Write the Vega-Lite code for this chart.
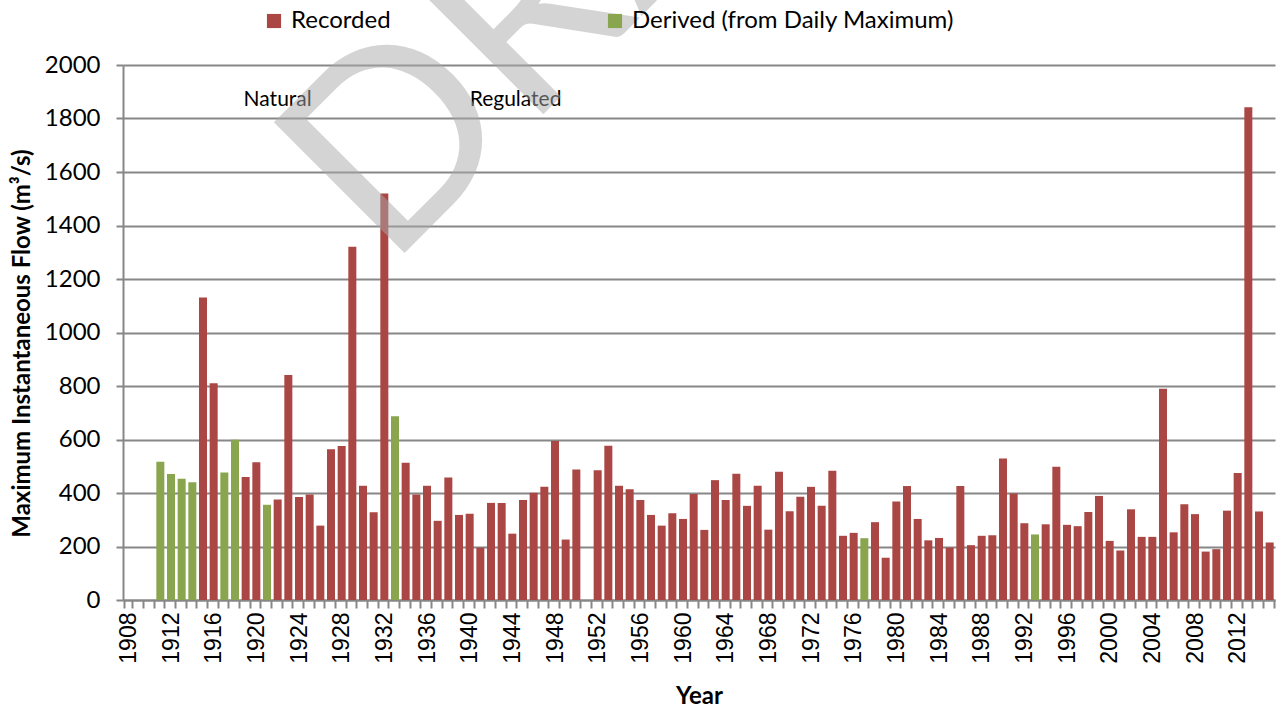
{
  "$schema": "https://vega.github.io/schema/vega-lite/v6.json",
  "width": 1152,
  "height": 535,
  "autosize": {"type": "none"},
  "padding": {"left": 123, "top": 65, "right": 1, "bottom": 109},
  "background": "white",
  "config": {
    "view": {"stroke": null},
    "axis": {"gridColor": "#878787", "domainColor": "#878787", "tickColor": "#878787", "labelColor": "#000000", "titleColor": "#000000"}
  },
  "data": {"values": [
    {"year": 1911, "flow": 517, "source": "Derived (from Daily Maximum)"},
    {"year": 1912, "flow": 471, "source": "Derived (from Daily Maximum)"},
    {"year": 1913, "flow": 453, "source": "Derived (from Daily Maximum)"},
    {"year": 1914, "flow": 440, "source": "Derived (from Daily Maximum)"},
    {"year": 1915, "flow": 1131, "source": "Recorded"},
    {"year": 1916, "flow": 810, "source": "Recorded"},
    {"year": 1917, "flow": 477, "source": "Derived (from Daily Maximum)"},
    {"year": 1918, "flow": 599, "source": "Derived (from Daily Maximum)"},
    {"year": 1919, "flow": 460, "source": "Recorded"},
    {"year": 1920, "flow": 515, "source": "Recorded"},
    {"year": 1921, "flow": 356, "source": "Derived (from Daily Maximum)"},
    {"year": 1922, "flow": 376, "source": "Recorded"},
    {"year": 1923, "flow": 841, "source": "Recorded"},
    {"year": 1924, "flow": 385, "source": "Recorded"},
    {"year": 1925, "flow": 394, "source": "Recorded"},
    {"year": 1926, "flow": 278, "source": "Recorded"},
    {"year": 1927, "flow": 564, "source": "Recorded"},
    {"year": 1928, "flow": 576, "source": "Recorded"},
    {"year": 1929, "flow": 1321, "source": "Recorded"},
    {"year": 1930, "flow": 427, "source": "Recorded"},
    {"year": 1931, "flow": 328, "source": "Recorded"},
    {"year": 1932, "flow": 1520, "source": "Recorded"},
    {"year": 1933, "flow": 687, "source": "Derived (from Daily Maximum)"},
    {"year": 1934, "flow": 513, "source": "Recorded"},
    {"year": 1935, "flow": 394, "source": "Recorded"},
    {"year": 1936, "flow": 427, "source": "Recorded"},
    {"year": 1937, "flow": 296, "source": "Recorded"},
    {"year": 1938, "flow": 458, "source": "Recorded"},
    {"year": 1939, "flow": 318, "source": "Recorded"},
    {"year": 1940, "flow": 322, "source": "Recorded"},
    {"year": 1941, "flow": 196, "source": "Recorded"},
    {"year": 1942, "flow": 363, "source": "Recorded"},
    {"year": 1943, "flow": 363, "source": "Recorded"},
    {"year": 1944, "flow": 248, "source": "Recorded"},
    {"year": 1945, "flow": 374, "source": "Recorded"},
    {"year": 1946, "flow": 401, "source": "Recorded"},
    {"year": 1947, "flow": 423, "source": "Recorded"},
    {"year": 1948, "flow": 594, "source": "Recorded"},
    {"year": 1949, "flow": 226, "source": "Recorded"},
    {"year": 1950, "flow": 488, "source": "Recorded"},
    {"year": 1952, "flow": 485, "source": "Recorded"},
    {"year": 1953, "flow": 577, "source": "Recorded"},
    {"year": 1954, "flow": 427, "source": "Recorded"},
    {"year": 1955, "flow": 414, "source": "Recorded"},
    {"year": 1956, "flow": 374, "source": "Recorded"},
    {"year": 1957, "flow": 318, "source": "Recorded"},
    {"year": 1958, "flow": 278, "source": "Recorded"},
    {"year": 1959, "flow": 324, "source": "Recorded"},
    {"year": 1960, "flow": 303, "source": "Recorded"},
    {"year": 1961, "flow": 396, "source": "Recorded"},
    {"year": 1962, "flow": 262, "source": "Recorded"},
    {"year": 1963, "flow": 448, "source": "Recorded"},
    {"year": 1964, "flow": 374, "source": "Recorded"},
    {"year": 1965, "flow": 472, "source": "Recorded"},
    {"year": 1966, "flow": 352, "source": "Recorded"},
    {"year": 1967, "flow": 427, "source": "Recorded"},
    {"year": 1968, "flow": 263, "source": "Recorded"},
    {"year": 1969, "flow": 479, "source": "Recorded"},
    {"year": 1970, "flow": 332, "source": "Recorded"},
    {"year": 1971, "flow": 386, "source": "Recorded"},
    {"year": 1972, "flow": 423, "source": "Recorded"},
    {"year": 1973, "flow": 352, "source": "Recorded"},
    {"year": 1974, "flow": 483, "source": "Recorded"},
    {"year": 1975, "flow": 240, "source": "Recorded"},
    {"year": 1976, "flow": 251, "source": "Recorded"},
    {"year": 1977, "flow": 231, "source": "Derived (from Daily Maximum)"},
    {"year": 1978, "flow": 291, "source": "Recorded"},
    {"year": 1979, "flow": 158, "source": "Recorded"},
    {"year": 1980, "flow": 368, "source": "Recorded"},
    {"year": 1981, "flow": 426, "source": "Recorded"},
    {"year": 1982, "flow": 303, "source": "Recorded"},
    {"year": 1983, "flow": 223, "source": "Recorded"},
    {"year": 1984, "flow": 232, "source": "Recorded"},
    {"year": 1985, "flow": 196, "source": "Recorded"},
    {"year": 1986, "flow": 426, "source": "Recorded"},
    {"year": 1987, "flow": 205, "source": "Recorded"},
    {"year": 1988, "flow": 240, "source": "Recorded"},
    {"year": 1989, "flow": 242, "source": "Recorded"},
    {"year": 1990, "flow": 529, "source": "Recorded"},
    {"year": 1991, "flow": 398, "source": "Recorded"},
    {"year": 1992, "flow": 287, "source": "Recorded"},
    {"year": 1993, "flow": 245, "source": "Derived (from Daily Maximum)"},
    {"year": 1994, "flow": 283, "source": "Recorded"},
    {"year": 1995, "flow": 498, "source": "Recorded"},
    {"year": 1996, "flow": 281, "source": "Recorded"},
    {"year": 1997, "flow": 276, "source": "Recorded"},
    {"year": 1998, "flow": 329, "source": "Recorded"},
    {"year": 1999, "flow": 389, "source": "Recorded"},
    {"year": 2000, "flow": 221, "source": "Recorded"},
    {"year": 2001, "flow": 185, "source": "Recorded"},
    {"year": 2002, "flow": 339, "source": "Recorded"},
    {"year": 2003, "flow": 236, "source": "Recorded"},
    {"year": 2004, "flow": 236, "source": "Recorded"},
    {"year": 2005, "flow": 790, "source": "Recorded"},
    {"year": 2006, "flow": 253, "source": "Recorded"},
    {"year": 2007, "flow": 358, "source": "Recorded"},
    {"year": 2008, "flow": 321, "source": "Recorded"},
    {"year": 2009, "flow": 181, "source": "Recorded"},
    {"year": 2010, "flow": 190, "source": "Recorded"},
    {"year": 2011, "flow": 334, "source": "Recorded"},
    {"year": 2012, "flow": 475, "source": "Recorded"},
    {"year": 2013, "flow": 1842, "source": "Recorded"},
    {"year": 2014, "flow": 331, "source": "Recorded"},
    {"year": 2015, "flow": 215, "source": "Recorded"}
  ]},
  "encoding": {
    "x": {
      "field": "year", "type": "ordinal",
      "scale": {
        "domain": [1908,1909,1910,1911,1912,1913,1914,1915,1916,1917,1918,1919,1920,1921,1922,1923,1924,1925,1926,1927,1928,1929,1930,1931,1932,1933,1934,1935,1936,1937,1938,1939,1940,1941,1942,1943,1944,1945,1946,1947,1948,1949,1950,1951,1952,1953,1954,1955,1956,1957,1958,1959,1960,1961,1962,1963,1964,1965,1966,1967,1968,1969,1970,1971,1972,1973,1974,1975,1976,1977,1978,1979,1980,1981,1982,1983,1984,1985,1986,1987,1988,1989,1990,1991,1992,1993,1994,1995,1996,1997,1998,1999,2000,2001,2002,2003,2004,2005,2006,2007,2008,2009,2010,2011,2012,2013,2014,2015],
        "paddingInner": 0.25, "paddingOuter": 0.125
      },
      "axis": {
        "title": "Year", "titleFont": "Lato", "titleFontWeight": "bold", "titleFontSize": 24, "titlePadding": 21,
        "labelAngle": -90, "labelFont": "Liberation Sans", "labelFontSize": 23, "labelPadding": 4,
        "labelExpr": "datum.value % 4 == 0 ? datum.label : ''", "labelOverlap": false, "labelFlush": false,
        "tickBand": "extent", "tickSize": 8, "tickWidth": 2, "domainWidth": 2, "grid": false
      }
    },
    "y": {
      "type": "quantitative",
      "scale": {"domain": [0, 2000], "nice": false},
      "axis": {
        "title": "Maximum Instantaneous Flow (m³/s)", "titleFont": "Lato", "titleFontWeight": "bold", "titleFontSize": 24, "titlePadding": 10, "titleY": 278,
        "values": [0,200,400,600,800,1000,1200,1400,1600,1800,2000], "format": "d",
        "labelFont": "Lato", "labelFontSize": 24, "labelPadding": 16,
        "tickSize": 7, "tickWidth": 2, "domainWidth": 2, "grid": true, "gridWidth": 2
      }
    }
  },
  "layer": [
    {
      "mark": {"type": "bar"},
      "encoding": {
        "y": {"field": "flow", "type": "quantitative"},
        "color": {
          "field": "source", "type": "nominal",
          "scale": {"domain": ["Recorded", "Derived (from Daily Maximum)"], "range": ["#AA4643", "#89A54E"]},
          "legend": {
            "title": null, "orient": "none", "direction": "horizontal", "legendX": 139, "legendY": -56,
            "symbolType": "square", "symbolSize": 200, "symbolStrokeWidth": 0, "symbolOpacity": 1,
            "labelFont": "Lato", "labelFontSize": 24, "labelOffset": 5, "labelLimit": 500, "columnPadding": 212, "padding": 0
          }
        }
      }
    },
    {
      "data": {"values": [{}]},
      "mark": {"type": "text", "text": "Natural", "font": "Lato", "fontSize": 21, "align": "center", "baseline": "alphabetic", "color": "#000000"},
      "encoding": {"x": {"datum": 1922}, "y": {"datum": 1847}}
    },
    {
      "data": {"values": [{}]},
      "mark": {"type": "text", "text": "Regulated", "font": "Lato", "fontSize": 21, "align": "left", "baseline": "alphabetic", "color": "#000000"},
      "encoding": {"x": {"datum": 1940}, "y": {"datum": 1847}}
    },
    {
      "data": {"values": [{}]},
      "mark": {"type": "text", "text": "DRAFT", "font": "Lato", "fontSize": 258, "align": "left", "baseline": "alphabetic", "angle": -45, "color": "#aaaaaa", "opacity": 0.5, "dx": 5},
      "encoding": {"x": {"datum": 1932}, "y": {"datum": 1222}}
    }
  ]
}
